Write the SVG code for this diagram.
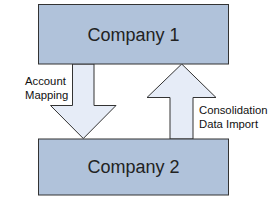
<svg xmlns="http://www.w3.org/2000/svg" width="273" height="201" viewBox="0 0 273 201">
<style>
.box{fill:#b0c2da;stroke:#333;stroke-width:1}
.arrow{fill:#e6ecf7;stroke:#333;stroke-width:1;stroke-linejoin:miter}
.big{font-family:"Liberation Sans",Arial,sans-serif;font-size:18px;fill:#222;text-anchor:middle}
.lbl{font-family:"Liberation Sans",Arial,sans-serif;font-size:11.3px;fill:#111}
</style>
<rect width="273" height="201" fill="#fff"/>
<g id="connectors">
<path class="arrow" d="M72.5,64 L94,64 L94,105.5 L116,105.5 L83.3,138.5 L50.5,105.5 L72.5,105.5 Z"/>
<path class="arrow" d="M170,139 L193,139 L193,97.5 L216,97.5 L181.7,64 L147,97.5 L170,97.5 Z"/>
<text class="lbl" x="25" y="84.5">Account</text>
<text class="lbl" x="25" y="99">Mapping</text>
<text class="lbl" x="199" y="114">Consolidation</text>
<text class="lbl" x="199" y="128">Data Import</text>
</g>
<g id="company1">
<rect class="box" x="38.5" y="4.5" width="190" height="59.5"/>
<text class="big" x="133.5" y="40.5">Company 1</text>
</g>
<g id="company2">
<rect class="box" x="38.5" y="139" width="190" height="56"/>
<text class="big" x="133.5" y="173">Company 2</text>
</g>
</svg>
